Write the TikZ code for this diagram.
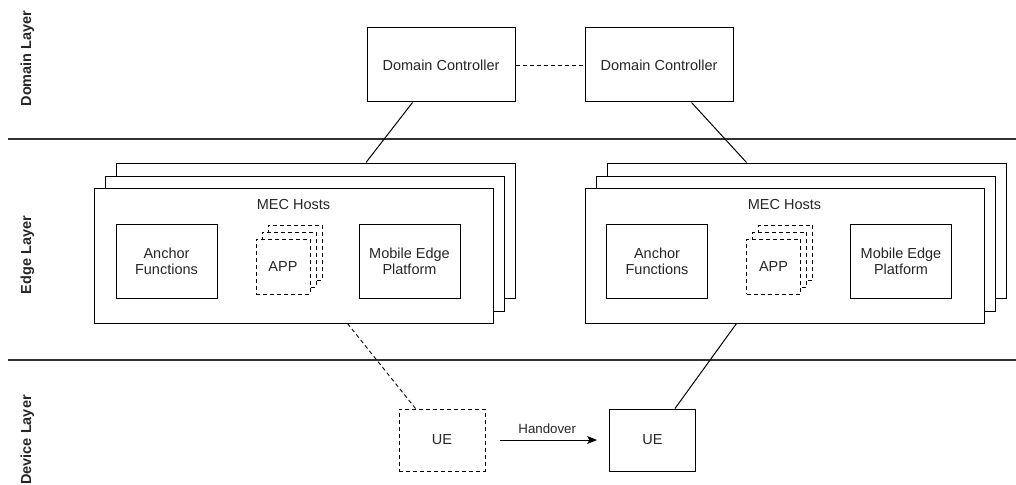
\documentclass[tikz,border=0pt]{standalone}
\usepackage{fontspec}
\setmainfont{Liberation Sans}
\usetikzlibrary{calc,arrows.meta}
\begin{document}
\begin{tikzpicture}[x=1pt,y=-1pt,
  every node/.style={inner sep=0pt, font=\fontsize{14.5}{17}\selectfont, text=black!85},
  box/.style={draw, line width=1pt, fill=white, align=center},
  dbox/.style={box, line width=0.9pt, dash pattern=on 4pt off 3pt},
  layerline/.style={line width=2.8pt, draw=black!80},
  link/.style={line width=1pt},
  dlink/.style={link, line width=0.9pt, dash pattern=on 4pt off 3pt},
  layerlabel/.style={rotate=90, font=\fontsize{14.5}{17}\selectfont\bfseries},
  hoststack/.style={box, minimum width=399pt, minimum height=135pt},
  unit/.style={box, minimum width=101pt, minimum height=74pt},
  appbox/.style={dbox, minimum width=54pt, minimum height=55pt},
  uebox/.style={minimum width=86pt, minimum height=62pt}
]
\useasboundingbox (0,0) rectangle (1016,484);

% layer separators
\coordinate (sepA0) at (8,139);   \coordinate (sepA1) at (1016,139);
\coordinate (sepB0) at (8,360);   \coordinate (sepB1) at (1016,360);
\draw[layerline] (sepA0) -- (sepA1);
\draw[layerline] (sepB0) -- (sepB1);

% layer labels
\node[layerlabel] (lblDomain) at (27.5,58.5) {Domain Layer};
\node[layerlabel] (lblEdge)   at (27.5,255)  {Edge Layer};
\node[layerlabel] (lblDevice) at (27.5,440)  {Device Layer};

% domain controllers
\node[box, minimum width=148pt, minimum height=74pt] (dc1) at (441,65) {Domain Controller};
\node[box, minimum width=148pt, minimum height=74pt] (dc2) at (659,65) {Domain Controller};
\draw[dlink] (dc1.east) -- (dc2.west);

% left MEC host stack
\node[hoststack] (hl3) at (316,230.5) {};
\node[hoststack] (hl2) at (305,243.5) {};
\node[hoststack] (hl1) at (293.5,255.5) {};
\node (hlTitle) at (293.5,205) {MEC Hosts};
\node[unit] (afL) at (166.5,261) {Anchor\\[-1pt]Functions};
\node[unit] (mepL) at (409.5,261) {Mobile Edge\\[-1pt]Platform};
\node[appbox] (appL3) at (295,252.5) {};
\node[appbox] (appL2) at (289,259.5) {};
\node[appbox] (appL1) at (283,266.5) {APP};

% right MEC host stack
\node[hoststack] (hr3) at (806.5,230.5) {};
\node[hoststack] (hr2) at (795.5,243.5) {};
\node[hoststack] (hr1) at (784.5,255.5) {};
\node (hrTitle) at (784.5,205) {MEC Hosts};
\node[unit] (afR) at (657,261) {Anchor\\[-1pt]Functions};
\node[unit] (mepR) at (901,261) {Mobile Edge\\[-1pt]Platform};
\node[appbox] (appR3) at (785.5,252.5) {};
\node[appbox] (appR2) at (779.5,259.5) {};
\node[appbox] (appR1) at (773.5,266.5) {APP};

% user equipment
\node[dbox, uebox] (ue1) at (442,440) {UE};
\node[box, uebox] (ue2) at (652.5,440) {UE};

% controller to host links
\draw[link] ($(dc1.south west)+(46,0)$) -- ($(hl3.north west)+(250,0)$);
\draw[link] ($(dc2.south west)+(107,0)$) -- ($(hr3.north west)+(140,0)$);

% host to UE links
\draw[dlink] ($(hl1.south west)+(254,0)$) -- ($(ue1.north west)+(17,0)$);
\draw[link] ($(hr1.south west)+(152,0)$) -- ($(ue2.north west)+(66,0)$);

% handover
\draw[link, -{Stealth[length=10pt, width=8pt, inset=2.5pt]}, shorten <=15pt, shorten >=12pt]
  (ue1.east) -- node[above=6pt, font=\fontsize{13.3}{16}\selectfont] (ho) {Handover} (ue2.west);
\end{tikzpicture}
\end{document}
